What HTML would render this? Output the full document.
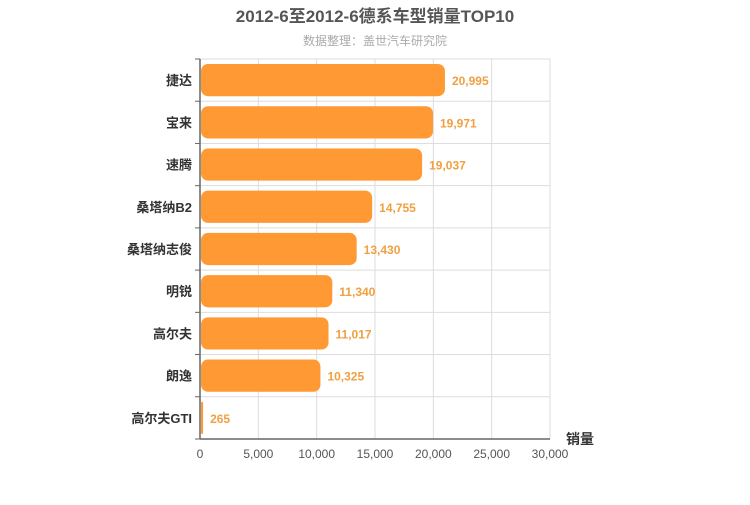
<!DOCTYPE html>
<html><head><meta charset="utf-8">
<style>
body{margin:0;background:#fff;width:750px;height:500px;overflow:hidden;font-family:"Liberation Sans","Noto Sans CJK SC",sans-serif;}
</style></head>
<body>
<svg id="chart" width="750" height="500" xmlns="http://www.w3.org/2000/svg" font-family="Liberation Sans, Noto Sans CJK SC, sans-serif">
<text x="375" y="22" text-anchor="middle" font-size="17" font-weight="bold" fill="#555">2012-6至2012-6德系车型销量TOP10</text>
<text x="375" y="45" text-anchor="middle" font-size="12" fill="#aaa">数据整理：盖世汽车研究院</text>
<g id="grid"></g><g id="bars"></g><g id="axes"></g>
<text x="580" y="444" text-anchor="middle" font-size="14" font-weight="bold" fill="#333">销量</text>
</svg>
<script>
const categories=["捷达","宝来","速腾","桑塔纳B2","桑塔纳志俊","明锐","高尔夫","朗逸","高尔夫GTI"];
const values=[20995,19971,19037,14755,13430,11340,11017,10325,265];
const ticks=[0,5000,10000,15000,20000,25000,30000];
const NS="http://www.w3.org/2000/svg";
const x0=200,x1=550,yTop=59,yBot=439,xMax=30000;
const xs=v=>x0+(v/xMax)*(x1-x0);
const rowH=(yBot-yTop)/categories.length;
const g=document.getElementById('grid'),b=document.getElementById('bars'),a=document.getElementById('axes');
function mk(tag,attrs,parent){const e=document.createElementNS(NS,tag);for(const k in attrs)e.setAttribute(k,attrs[k]);parent.appendChild(e);return e;}
ticks.forEach(t=>{
  const l=mk('line',{x1:xs(t),x2:xs(t),y1:yTop,y2:yBot,stroke:'#ddd'},g);
  
  
  const tx=mk('text',{x:xs(t),y:yBot+19,'text-anchor':'middle','font-size':12,fill:'#555'},a);
  tx.textContent=t.toLocaleString('en-US');
  
  
});
for(let i=0;i<=categories.length;i++){
  const y=yTop+i*rowH;
  const l=mk('line',{x1:x0,x2:x1,y1:y,y2:y,stroke:'#ddd'},g);
  
  
  const tk=mk('line',{x1:x0-5,x2:x0,y1:y,y2:y,stroke:'#666'},a);
  
  
}
categories.forEach((c,i)=>{
  const y=yTop+i*rowH;
  const w=xs(values[i])-x0;
  const r=Math.min(7,w/2);
  const rect=mk('rect',{x:x0+1,y:y+5,width:Math.max(w-1,2),height:rowH-10,rx:r,ry:r,fill:'#ff9933'},b);
  
  
  const vl=mk('text',{x:xs(values[i])+7,y:y+rowH/2+5,'font-size':12,'font-weight':'bold',fill:'#f0a040'},b);
  vl.textContent=values[i].toLocaleString('en-US');
  
  
  const cl=mk('text',{x:x0-8,y:y+rowH/2+5,'text-anchor':'end','font-size':13,'font-weight':'bold',fill:'#333'},a);
  cl.textContent=c;
  
  
});
const ya=mk('line',{x1:x0,x2:x0,y1:yTop,y2:yBot,stroke:'#666','stroke-width':1.5},a);


const xa=mk('line',{x1:x0,x2:x1,y1:yBot,y2:yBot,stroke:'#666','stroke-width':1.5},a);


</script>
</body></html>
